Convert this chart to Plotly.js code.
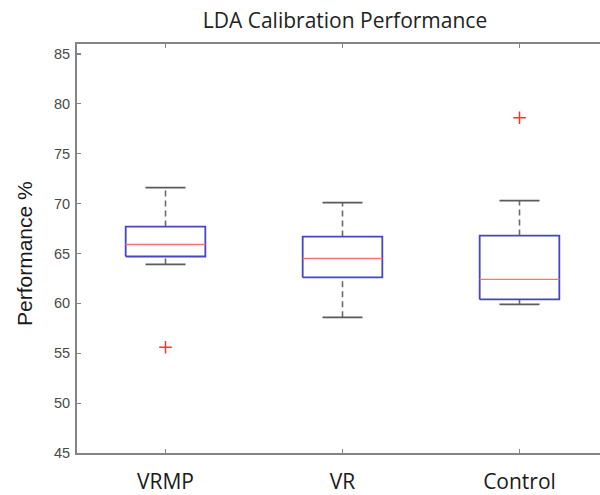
<!DOCTYPE html>
<html>
<head>
<meta charset="utf-8">
<script src="https://cdn.plot.ly/plotly-3.0.1.min.js"></script>
<style>
  html, body { margin: 0; padding: 0; background: #fff; overflow: hidden; width: 600px; height: 495px; }
  #chart { width: 612px; height: 495px; }
</style>
</head>
<body>
<div id="chart"></div>
<script>
// Group labels and their box-plot statistics (Performance %)
const categories = ['VRMP', 'VR', 'Control'];
const lowerWhisker = [63.9, 58.6, 59.9];
const q1 = [64.7, 62.6, 60.4];
const median = [65.9, 64.5, 62.4];
const q3 = [67.7, 66.7, 66.8];
const upperWhisker = [71.6, 70.1, 70.3];
// Outlying points, one list per group
const outliers = [[55.6], [], [78.6]];

const positions = categories.map((_, i) => i + 1);
const boxHalf = 0.225;
const capHalf = 0.113;

const whiskX = [], whiskY = [];
const capX = [], capY = [];
const boxX = [], boxY = [];
const medX = [], medY = [];
const outX = [], outY = [];

positions.forEach((p, i) => {
  // dashed whiskers from the box edges to the extremes
  whiskX.push(p, p, null, p, p, null);
  whiskY.push(q3[i], upperWhisker[i], null, lowerWhisker[i], q1[i], null);
  // whisker end caps
  capX.push(p - capHalf, p + capHalf, null, p - capHalf, p + capHalf, null);
  capY.push(upperWhisker[i], upperWhisker[i], null, lowerWhisker[i], lowerWhisker[i], null);
  // interquartile box
  boxX.push(p - boxHalf, p + boxHalf, p + boxHalf, p - boxHalf, p - boxHalf, null);
  boxY.push(q1[i], q1[i], q3[i], q3[i], q1[i], null);
  // median line
  medX.push(p - boxHalf, p + boxHalf, null);
  medY.push(median[i], median[i], null);
  outliers[i].forEach(v => { outX.push(p); outY.push(v); });
});

const traces = [
  { x: whiskX, y: whiskY, mode: 'lines', line: { color: '#6a6a6a', width: 1.6, dash: '6px,4px' }, hoverinfo: 'skip' },
  { x: capX, y: capY, mode: 'lines', line: { color: '#5a5a5a', width: 1.8 }, hoverinfo: 'skip' },
  { x: boxX, y: boxY, mode: 'lines', line: { color: '#4646c4', width: 1.8 }, hoverinfo: 'skip' },
  { x: medX, y: medY, mode: 'lines', line: { color: '#ff7070', width: 1.4 }, hoverinfo: 'skip' },
  { x: outX, y: outY, mode: 'markers', marker: { symbol: 'cross-thin', size: 9, line: { color: '#ff3030', width: 1.5 } }, hoverinfo: 'skip' }
];

const axisGrey = '#858585';
const plotLeft = 77, plotWidth = 531, plotTop = 44, plotHeight = 409;

const layout = {
  width: 612,
  height: 495,
  margin: { l: plotLeft, r: 612 - plotLeft - plotWidth, t: plotTop, b: 495 - plotTop - plotHeight },
  paper_bgcolor: '#ffffff',
  plot_bgcolor: '#ffffff',
  showlegend: false,
  title: {
    text: 'LDA Calibration Performance',
    font: { family: 'Open Sans, Noto Sans, sans-serif', size: 21, color: '#222' },
    x: 345 / 612, xanchor: 'center',
    y: 1 - 21 / 495, yanchor: 'middle'
  },
  xaxis: {
    range: [0.5, 3.5],
    tickvals: positions,
    ticktext: categories,
    ticks: 'inside', ticklen: 4, tickwidth: 1.2, tickcolor: axisGrey,
    showline: true, linecolor: axisGrey, linewidth: 2, mirror: 'ticks',
    showgrid: false, zeroline: false,
    tickfont: { family: 'Open Sans, Noto Sans, sans-serif', size: 21, color: '#1a1a1a' },
    ticklabelstandoff: 9
  },
  yaxis: {
    range: [45, 86],
    tickvals: [45, 50, 55, 60, 65, 70, 75, 80, 85],
    ticks: 'inside', ticklen: 4, tickwidth: 1.2, tickcolor: axisGrey,
    showline: true, linecolor: axisGrey, linewidth: 2, mirror: 'ticks',
    showgrid: false, zeroline: false,
    tickfont: { family: 'Liberation Sans, Arial, sans-serif', size: 14.5, color: '#4a4a4a' },
    ticklabelstandoff: 2
  },
  annotations: [{
    // y-axis label, set slightly below the axis midpoint
    text: 'Performance %',
    textangle: -90,
    xref: 'paper', yref: 'paper',
    x: (24 - plotLeft) / plotWidth, xanchor: 'center',
    y: (plotTop + plotHeight - 254) / plotHeight, yanchor: 'middle',
    showarrow: false,
    font: { family: 'Liberation Sans, Arial, sans-serif', size: 21, color: '#1a1a1a' }
  }]
};

Plotly.newPlot('chart', traces, layout, { displayModeBar: false, staticPlot: true });
</script>
</body>
</html>
